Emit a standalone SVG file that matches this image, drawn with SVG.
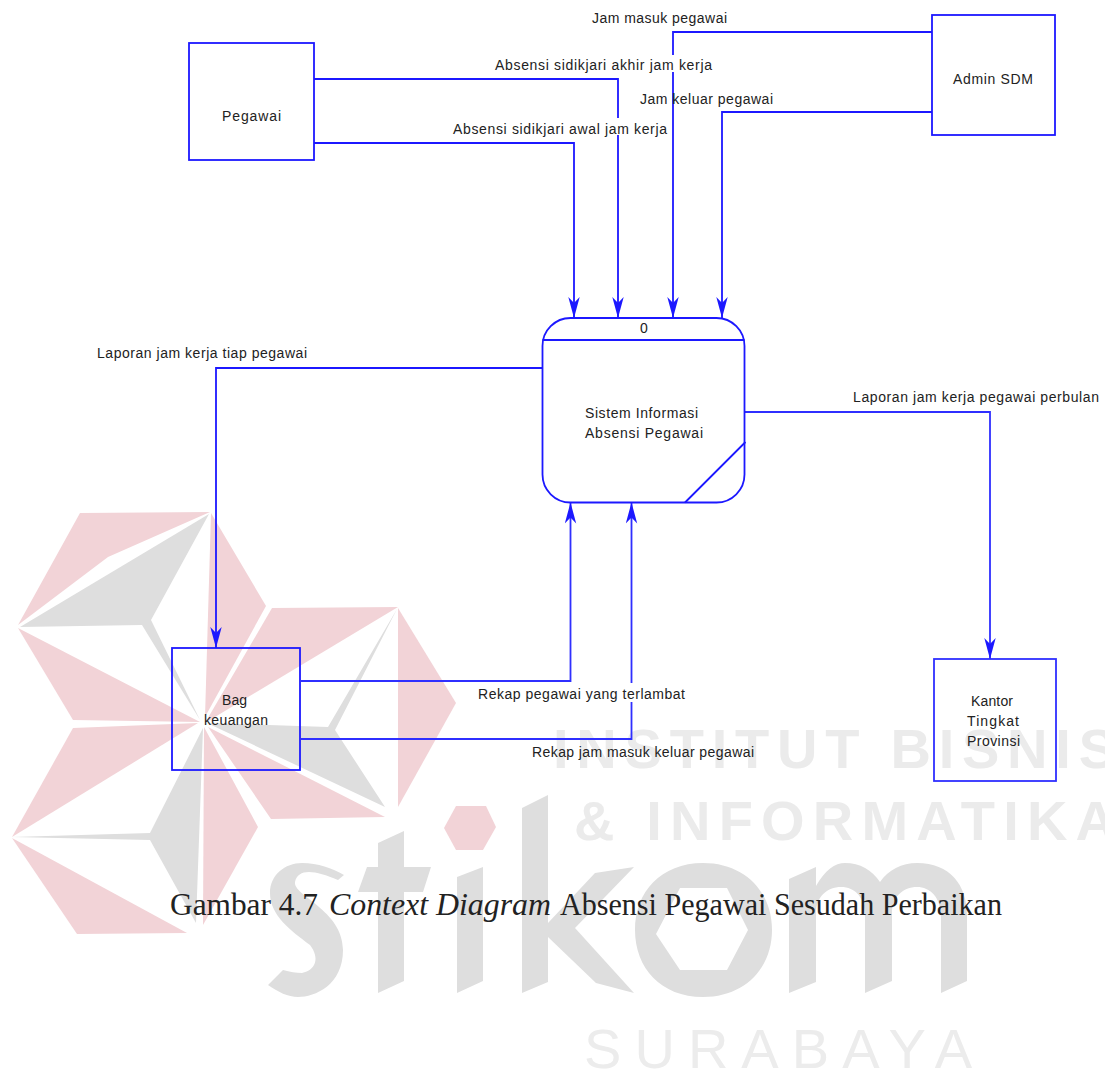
<svg xmlns="http://www.w3.org/2000/svg" width="1105" height="1073" viewBox="0 0 1105 1073">
<defs>
<style>
.l{font-family:"Liberation Sans",Arial,sans-serif;font-size:14px;fill:#222}
.n{fill:none;stroke:#1c18ff;stroke-width:1.8}
.b{fill:none;stroke:#1c18ff;stroke-width:1.8}
.e{fill:none;stroke:#1c18ff;stroke-width:1.8}
.p{fill:#f2d3d7}
.g{fill:#dedede}
.w{font-family:"Liberation Sans",Arial,sans-serif;font-weight:bold;fill:#ebebeb;font-size:56px}
.t{font-family:"Liberation Sans",Arial,sans-serif;fill:#ececec;font-size:56px}
.k{font-family:"Liberation Serif","Times New Roman",serif;fill:#222;font-size:31px}
</style>
<marker id="a" markerUnits="userSpaceOnUse" markerWidth="22" markerHeight="12" refX="21" refY="6" orient="auto" viewBox="0 0 22 12"><path d="M21 6L0 0.300L6 6L0 11.700Z" fill="#1c18ff"/></marker>
</defs>
<rect width="1105" height="1073" fill="#fff"/>
<g id="watermark">
<path class="p" d="M80 513L210 512L108 557L18 625Z"/>
<path class="p" d="M211 513L266 606L205 717Z"/>
<path class="g" d="M20 627L142 625L200 720L151 620L209 514Z"/>
<path class="p" d="M18 628L200 722L73 720Z"/>
<path class="p" d="M272 608L398 607L205 723Z"/>
<path class="g" d="M397 609L335 730L385 807L207 723L328 727Z"/>
<path class="p" d="M398 608L456 703L398 807Z"/>
<path class="p" d="M73 728L198 723L12 837Z"/>
<path class="p" d="M12 838L187 933L77 934Z"/>
<path class="g" d="M12 837L150 833L203 728L196 923L150 840Z"/>
<path class="p" d="M204 727L258 827L203 925Z"/>
<path class="p" d="M208 727L385 817L271 819Z"/>
<path class="p" d="M444 828L456 806L486 806L496 827L483 850L456 850Z"/>
<text class="w" x="553" y="768" textLength="563" lengthAdjust="spacing">INSTITUT BISNIS</text>
<text class="w" x="574" y="840" textLength="542" lengthAdjust="spacing">&amp; INFORMATIKA</text>
<text class="t" x="584" y="1068" textLength="388" lengthAdjust="spacing">SURABAYA</text>
<path class="g" d="M338 880C315 870 298 868 295 882C293 896 343 910 343 950C343 985 315 997 298 997C288 997 278 992 268 985L283 970C290 972 296 973 302 973C316 970 320 958 310 945C290 930 270 915 270 893C270 875 285 863 302 863C318 863 332 868 344 875Z"/>
<path class="g" d="M378 843L404 831L404 867L431 867L423 892L404 892L404 981L378 993L378 892L358 892L367 867L378 867Z"/>
<path class="g" d="M457 877L483 867L483 981L457 993Z"/>
<path class="g" d="M522 808L548 795L548 923L595 873L634 867L575 928L634 993L596 983L548 937L548 982L522 993Z"/>
<path class="g" fill-rule="evenodd" d="M703 863C745 863 772 892 772 930C772 968 745 997 703 997C661 997 635 968 635 930C635 892 661 863 703 863ZM680 888L656 934L680 970L727 970L748 930L727 888Z"/>
<path class="g" d="M789 879L816 867L816 886C825 870 835 863 845 863C860 863 872 870 880 882C888 870 902 863 917 863C950 863 967 885 967 915L967 981L941 993L941 917C941 897 930 887 917 887C903 887 892 897 892 913L892 981L865 993L865 917C865 897 855 887 841 887C827 887 816 897 816 913L816 982L789 993Z"/>
</g>
<g id="connectors">
<path class="e" d="M314 79H618V118M618 135V318" marker-end="url(#a)"/>
<path class="e" d="M314 143H574V318" marker-end="url(#a)"/>
<path class="e" d="M932 32H673V55M673 72V318" marker-end="url(#a)"/>
<path class="e" d="M932 112H722V318" marker-end="url(#a)"/>
<path class="e" d="M542 368H216V648" marker-end="url(#a)"/>
<path class="e" d="M745 412H990V659" marker-end="url(#a)" style="stroke:#2f2fff"/>
<path class="e" d="M301 681H570.500V502.500" marker-end="url(#a)" style="stroke:#2f2fff"/>
<path class="e" d="M301 739H631.500V702M631.500 683V502.500" marker-end="url(#a)" style="stroke:#2f2fff"/>
</g>
<g id="flow-labels">
<text class="l" x="592" y="23" textLength="135" lengthAdjust="spacing">Jam masuk pegawai</text>
<text class="l" x="495" y="70" textLength="217" lengthAdjust="spacing">Absensi sidikjari akhir jam kerja</text>
<text class="l" x="640" y="104" textLength="133" lengthAdjust="spacing">Jam keluar pegawai</text>
<text class="l" x="453" y="134" textLength="214" lengthAdjust="spacing">Absensi sidikjari awal jam kerja</text>
<text class="l" x="97" y="358" textLength="210" lengthAdjust="spacing">Laporan jam kerja tiap pegawai</text>
<text class="l" x="853" y="402" textLength="246" lengthAdjust="spacing">Laporan jam kerja pegawai perbulan</text>
<text class="l" x="478" y="699" textLength="207" lengthAdjust="spacing">Rekap pegawai yang terlambat</text>
<text class="l" x="532" y="757" textLength="222" lengthAdjust="spacing">Rekap jam masuk keluar pegawai</text>
</g>
<g id="pegawai"><rect class="b" x="189" y="43" width="125" height="117"/><text class="l" x="222" y="121" textLength="59" lengthAdjust="spacing">Pegawai</text></g>
<g id="admin-sdm"><rect class="b" x="932" y="15" width="123" height="120"/><text class="l" x="953" y="84" textLength="80" lengthAdjust="spacing">Admin SDM</text></g>
<g id="bag-keuangan"><rect class="b" x="172" y="648" width="128" height="122"/><text class="l" x="222" y="705" textLength="25" lengthAdjust="spacing">Bag</text><text class="l" x="204" y="725" textLength="64" lengthAdjust="spacing">keuangan</text></g>
<g id="kantor"><rect class="b" x="934" y="659" width="122" height="122" style="stroke:#2f2fff"/><text class="l" x="971" y="706" textLength="42" lengthAdjust="spacing">Kantor</text><text class="l" x="967" y="726" textLength="52" lengthAdjust="spacing">Tingkat</text><text class="l" x="967" y="746" textLength="53" lengthAdjust="spacing">Provinsi</text></g>
<g id="process-0">
<rect class="b" x="542.500" y="318" width="202" height="184.500" rx="28" ry="28"/>
<path class="n" d="M542.500 340H744.500M745.500 442L685 502.500"/>
<text class="l" x="640" y="333">0</text>
<text class="l" x="585" y="418" textLength="113" lengthAdjust="spacing">Sistem Informasi</text>
<text class="l" x="585" y="438" textLength="118" lengthAdjust="spacing">Absensi Pegawai</text>
</g>
<g id="caption">
<text class="k" x="170" y="915" textLength="148" lengthAdjust="spacingAndGlyphs">Gambar 4.7</text>
<text class="k" x="329" y="915" font-style="italic" textLength="222" lengthAdjust="spacingAndGlyphs">Context Diagram</text>
<text class="k" x="560" y="915" textLength="442" lengthAdjust="spacingAndGlyphs">Absensi Pegawai Sesudah Perbaikan</text>
</g>
</svg>
